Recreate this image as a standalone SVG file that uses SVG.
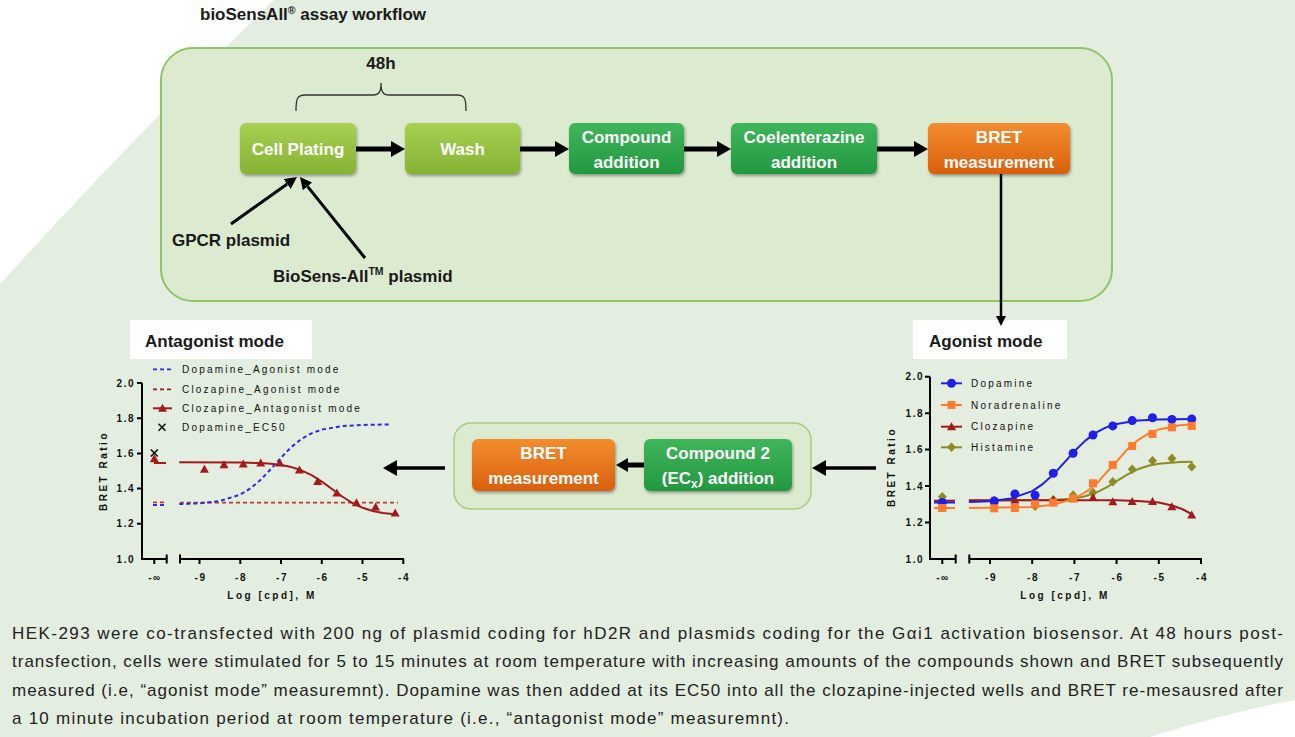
<svg xmlns="http://www.w3.org/2000/svg" width="1295" height="737" viewBox="0 0 1295 737">
<defs>
<style>
text{font-family:"Liberation Sans",Arial,sans-serif}
.bw{font-weight:bold;fill:#fff;font-size:17px;text-anchor:middle}
.lbl{font-weight:bold;font-size:17px;fill:#1a1a1a}
.tick{font-weight:bold;font-size:10px;letter-spacing:1.5px;fill:#111}
.tl{text-anchor:end}
.tc{text-anchor:middle}
.leg{font-size:10px;letter-spacing:2.2px;fill:#111}
.axl{font-weight:bold;font-size:10px;letter-spacing:2.5px;fill:#111;text-anchor:middle}
.body{font-size:17px;fill:#222}
.ax{stroke:#000;stroke-width:2;fill:none}
.cv{fill:none;stroke-width:2;stroke-linejoin:round}
.thick{stroke:#000;stroke-width:5;fill:none}
.thin{stroke:#000;stroke-width:3;fill:none}
.box{filter:url(#sh)}
</style>
<linearGradient id="lg" x1="0" y1="0" x2="0" y2="1"><stop offset="0" stop-color="#a8cf52"/><stop offset="1" stop-color="#86b334"/></linearGradient>
<linearGradient id="dg" x1="0" y1="0" x2="0" y2="1"><stop offset="0" stop-color="#40b55c"/><stop offset="1" stop-color="#22983f"/></linearGradient>
<linearGradient id="og" x1="0" y1="0" x2="0" y2="1"><stop offset="0" stop-color="#f38d2f"/><stop offset="1" stop-color="#d95f0c"/></linearGradient>
<filter id="sh" x="-10%" y="-10%" width="130%" height="140%"><feDropShadow dx="1" dy="2" stdDeviation="1.5" flood-color="#000" flood-opacity="0.35"/></filter>
<marker id="ahL" viewBox="0 0 14 16" refX="0" refY="8" markerWidth="14" markerHeight="16" markerUnits="userSpaceOnUse" orient="auto"><path d="M0,0 L14,8 L0,16z" fill="#000"/></marker>
<marker id="ahM" viewBox="0 0 12 14" refX="0" refY="7" markerWidth="12" markerHeight="14" markerUnits="userSpaceOnUse" orient="auto"><path d="M0,0 L12,7 L0,14z" fill="#000"/></marker>
<marker id="ahS" viewBox="0 0 12 12" refX="0" refY="6" markerWidth="12" markerHeight="12" markerUnits="userSpaceOnUse" orient="auto"><path d="M0,0 L12,6 L0,12z" fill="#000"/></marker>
<marker id="ahT" viewBox="0 0 10 10" refX="0" refY="5" markerWidth="10" markerHeight="10" markerUnits="userSpaceOnUse" orient="auto"><path d="M0,0 L10,5 L0,10z" fill="#000"/></marker>
<path id="tri" d="M0,-4.5 L4.5,3.5 L-4.5,3.5z"/>
<circle id="cir" r="4.5"/>
<rect id="sq" x="-4" y="-4" width="8" height="8"/>
<path id="dia" d="M0,-4.8 L4.5,0 L0,4.8 L-4.5,0z"/>
</defs>

<rect width="1295" height="737" fill="#e3ede0"/>
<path d="M0,0 H274 Q150,120 0,284 Z" fill="#ffffff"/>
<path d="M1150,737 Q1230,712 1295,700 V737 Z" fill="#ffffff"/>

<text x="200" y="20" class="lbl" font-size="17.5">bioSensAll<tspan font-size="10.5" dy="-6">®</tspan><tspan dy="6"> assay workflow</tspan></text>

<g id="workflow-panel">
<rect x="161" y="48" width="951" height="253" rx="32" fill="#dceacf" stroke="#8fc46a" stroke-width="2"/>
</g>

<g id="brace-48h">
<text x="381" y="69" class="lbl tc">48h</text>
<path d="M296,111 C296,99 297,95 305,95 H373 C379,95 381,92 381,83 C381,92 383,95 389,95 H457 C465,95 466,99 466,111" fill="none" stroke="#333" stroke-width="1.3"/>
</g>

<g id="cell-plating">
<rect class="box" x="240" y="123" width="116" height="51" rx="6" fill="url(#lg)"/>
<text x="298" y="155" class="bw">Cell Plating</text>
</g>
<g id="wash">
<rect class="box" x="405" y="123" width="115" height="51" rx="6" fill="url(#lg)"/>
<text x="462.5" y="155" class="bw">Wash</text>
</g>
<g id="compound-addition">
<rect class="box" x="569" y="123" width="115" height="51" rx="6" fill="url(#dg)"/>
<text x="626.5" y="143" class="bw">Compound</text>
<text x="626.5" y="167.5" class="bw">addition</text>
</g>
<g id="coelenterazine-addition">
<rect class="box" x="731" y="123" width="146" height="51" rx="6" fill="url(#dg)"/>
<text x="804" y="143" class="bw" font-size="16.5">Coelenterazine</text>
<text x="804" y="167.5" class="bw">addition</text>
</g>
<g id="bret-measurement-1">
<rect class="box" x="928" y="123" width="142" height="51" rx="6" fill="url(#og)"/>
<text x="999" y="143" class="bw">BRET</text>
<text x="999" y="167.5" class="bw">measurement</text>
</g>

<g id="gpcr-plasmid">
<text x="172" y="246" class="lbl">GPCR plasmid</text>
</g>
<g id="biosens-plasmid">
<text x="273" y="282" class="lbl">BioSens-All<tspan font-size="10.5" dy="-7">TM</tspan><tspan dy="7"> plasmid</tspan></text>
</g>

<g id="antagonist-mode-label">
<rect x="130" y="320" width="182" height="39" fill="#ffffff"/>
<text x="145" y="347" class="lbl" font-size="17.5">Antagonist mode</text>
</g>
<g id="agonist-mode-label">
<rect x="913" y="320" width="154" height="39" fill="#ffffff"/>
<text x="929" y="347" class="lbl" font-size="17.5">Agonist mode</text>
</g>

<g id="antagonist-panel">
<rect x="454" y="423" width="357" height="86" rx="17" fill="#dceacf" stroke="#a3cf82" stroke-width="1.5"/>
</g>
<g id="bret-measurement-2">
<rect class="box" x="472" y="439" width="143" height="52" rx="6" fill="url(#og)"/>
<text x="543.5" y="459" class="bw">BRET</text>
<text x="543.5" y="484" class="bw">measurement</text>
</g>
<g id="compound2-addition">
<rect class="box" x="644" y="439" width="148" height="52" rx="6" fill="url(#dg)"/>
<text x="718" y="459" class="bw">Compound 2</text>
<text x="718" y="484" class="bw">(EC<tspan font-size="12" dy="4">x</tspan><tspan dy="-4">) addition</tspan></text>
</g>

<g id="connectors">
<line x1="356" y1="149" x2="391" y2="149" class="thick" marker-end="url(#ahL)"/>
<line x1="520" y1="149" x2="555" y2="149" class="thick" marker-end="url(#ahL)"/>
<line x1="684" y1="149" x2="717" y2="149" class="thick" marker-end="url(#ahL)"/>
<line x1="877" y1="149" x2="914" y2="149" class="thick" marker-end="url(#ahL)"/>
<line x1="1001" y1="174" x2="1001" y2="316" stroke="#000" stroke-width="2.5" marker-end="url(#ahT)"/>
<line x1="231" y1="224" x2="287.2" y2="184" class="thin" marker-end="url(#ahS)"/>
<line x1="365" y1="258" x2="307.5" y2="186.4" class="thin" marker-end="url(#ahS)"/>
<line x1="644" y1="465" x2="628" y2="465" class="thick" marker-end="url(#ahM)"/>
<line x1="876" y1="468" x2="826" y2="468" stroke="#000" stroke-width="3.5" marker-end="url(#ahL)"/>
<line x1="445" y1="468" x2="397" y2="468" stroke="#000" stroke-width="3.5" marker-end="url(#ahL)"/>
</g>

<g id="chart-antagonist">
<path class="ax" d="M142,383 V559 H166.7 M166.7,554.5 V563.5 M180,554.5 V563.5 M180,559 H404"/>
<path class="ax" stroke-width="1.5" d="M137,383 H142 M137,418.2 H142 M137,453.4 H142 M137,488.6 H142 M137,523.8 H142 M154.3,559 V564 M199.5,559 V564 M240.3,559 V564 M281,559 V564 M321.8,559 V564 M362.5,559 V564 M403.3,559 V564"/>
<text class="tick tl" x="135" y="386.5">2.0</text>
<text class="tick tl" x="135" y="421.7">1.8</text>
<text class="tick tl" x="135" y="456.9">1.6</text>
<text class="tick tl" x="135" y="492.1">1.4</text>
<text class="tick tl" x="135" y="527.3">1.2</text>
<text class="tick tl" x="135" y="562.5">1.0</text>
<text class="tick tc" x="155" y="581">-∞</text>
<text class="tick tc" x="200.5" y="581">-9</text>
<text class="tick tc" x="241" y="581">-8</text>
<text class="tick tc" x="282" y="581">-7</text>
<text class="tick tc" x="322.5" y="581">-6</text>
<text class="tick tc" x="363" y="581">-5</text>
<text class="tick tc" x="404" y="581">-4</text>
<text class="axl" x="272" y="599">Log [cpd], M</text>
<text class="axl" transform="translate(107,471) rotate(-90)">BRET Ratio</text>
<line x1="153" y1="369.3" x2="172" y2="369.3" stroke="#2a2ae8" stroke-width="1.8" stroke-dasharray="4 3"/>
<line x1="153" y1="389.3" x2="172" y2="389.3" stroke="#a31a1a" stroke-width="1.8" stroke-dasharray="4 3"/>
<line x1="153" y1="408.3" x2="172" y2="408.3" stroke="#a31a1a" stroke-width="2"/>
<use href="#tri" x="162.5" y="408.3" fill="#a31a1a"/>
<path d="M158.5,423.8 L165.5,430.8 M165.5,423.8 L158.5,430.8" stroke="#111" stroke-width="1.6"/>
<text class="leg" x="182" y="372.8">Dopamine_Agonist mode</text>
<text class="leg" x="182" y="392.8">Clozapine_Agonist mode</text>
<text class="leg" x="182" y="411.8">Clozapine_Antagonist mode</text>
<text class="leg" x="182" y="430.8">Dopamine_EC50</text>
<line x1="153" y1="502.3" x2="166" y2="502.3" stroke="#c0392b" stroke-width="1.8" stroke-dasharray="4 3"/>
<line x1="153" y1="505" x2="166" y2="505" stroke="#2a2ae8" stroke-width="1.8" stroke-dasharray="4 3"/>
<line x1="180" y1="502.7" x2="398" y2="502.7" stroke="#c0392b" stroke-width="1.8" stroke-dasharray="4 3"/>
<polyline class="cv" stroke="#2a2ae8" stroke-width="1.8" stroke-dasharray="4 3" points="179.2,504.1 199.5,503.3 219.9,501 240.3,494.6 250.4,488.4 260.7,479.8 270.9,469 281.1,457.6 291.3,447.1 301.4,439 311.6,433.3 321.8,429.6 342.2,426.1 362.6,424.9 391.1,424.4"/>
<line x1="154" y1="463" x2="166" y2="463" stroke="#a31a1a" stroke-width="2"/>
<polyline class="cv" stroke="#a31a1a" points="179.2,462.2 240.3,462.5 260.7,463.1 270.9,463.8 281.1,465 291.3,467.1 301.4,470.3 311.6,475.1 321.8,481.6 332,489 342.2,496.5 352.4,503 362.6,507.8 372.7,511 382.9,513 397.2,514.6"/>
<g fill="#a31a1a">
<use href="#tri" x="154.3" y="458.7"/>
<use href="#tri" x="204.4" y="469.2"/>
<use href="#tri" x="224" y="464.8"/>
<use href="#tri" x="243.2" y="464"/>
<use href="#tri" x="260.7" y="463.1"/>
<use href="#tri" x="279.8" y="463.1"/>
<use href="#tri" x="299.4" y="470.1"/>
<use href="#tri" x="317.7" y="481.6"/>
<use href="#tri" x="336.9" y="493"/>
<use href="#tri" x="356.4" y="502.7"/>
<use href="#tri" x="375.6" y="507.1"/>
<use href="#tri" x="395.2" y="512.9"/>
</g>
<path d="M150.8,449.5 L157.8,456.5 M157.8,449.5 L150.8,456.5" stroke="#111" stroke-width="1.6"/>
</g>

<g id="chart-agonist">
<path class="ax" d="M930,376.7 V559 H955.7 M955.7,554.5 V563.5 M969.3,554.5 V563.5 M969.3,559 H1202"/>
<path class="ax" stroke-width="1.5" d="M925,376.7 H930 M925,413.2 H930 M925,449.6 H930 M925,486.1 H930 M925,522.5 H930 M942.3,559 V564 M990,559 V564 M1032.2,559 V564 M1074.4,559 V564 M1116.6,559 V564 M1158.8,559 V564 M1201,559 V564"/>
<text class="tick tl" x="924" y="380.2">2.0</text>
<text class="tick tl" x="924" y="416.7">1.8</text>
<text class="tick tl" x="924" y="453.1">1.6</text>
<text class="tick tl" x="924" y="489.6">1.4</text>
<text class="tick tl" x="924" y="526">1.2</text>
<text class="tick tl" x="924" y="562.5">1.0</text>
<text class="tick tc" x="943" y="581">-∞</text>
<text class="tick tc" x="991" y="581">-9</text>
<text class="tick tc" x="1033" y="581">-8</text>
<text class="tick tc" x="1075" y="581">-7</text>
<text class="tick tc" x="1117.5" y="581">-6</text>
<text class="tick tc" x="1159.5" y="581">-5</text>
<text class="tick tc" x="1202" y="581">-4</text>
<text class="axl" x="1065" y="599">Log [cpd], M</text>
<text class="axl" transform="translate(895,467) rotate(-90)">BRET Ratio</text>
<line x1="941" y1="383.3" x2="962" y2="383.3" stroke="#1f1fe8" stroke-width="2"/>
<use href="#cir" x="951.5" y="383.3" fill="#1f1fe8"/>
<line x1="941" y1="405" x2="962" y2="405" stroke="#ff7b2e" stroke-width="2"/>
<use href="#sq" x="951.5" y="405" fill="#ff7b2e"/>
<line x1="941" y1="426.7" x2="962" y2="426.7" stroke="#a31a1a" stroke-width="2"/>
<use href="#tri" x="951.5" y="426.7" fill="#a31a1a"/>
<line x1="941" y1="447.3" x2="962" y2="447.3" stroke="#8c8c22" stroke-width="2"/>
<use href="#dia" x="951.5" y="447.3" fill="#8c8c22"/>
<text class="leg" x="971" y="386.8">Dopamine</text>
<text class="leg" x="971" y="408.5">Noradrenaline</text>
<text class="leg" x="971" y="430.2">Clozapine</text>
<text class="leg" x="971" y="450.8">Histamine</text>
<line x1="934" y1="500.7" x2="955" y2="500.7" stroke="#a31a1a" stroke-width="2"/>
<line x1="934" y1="502.5" x2="955" y2="502.5" stroke="#1f1fe8" stroke-width="2"/>
<line x1="934" y1="508" x2="955" y2="508" stroke="#ff7b2e" stroke-width="2"/>
<polyline class="cv" stroke="#8c8c22" points="968.9,500.7 1053.3,500.1 1074.4,498.4 1085,496.3 1095.5,492.8 1106.1,487.6 1116.6,481.1 1127.2,474.6 1137.7,469.3 1148.3,465.8 1158.8,463.8 1179.9,462.1 1192.6,461.8"/>
<g fill="#8c8c22">
<use href="#dia" x="942.3" y="496.7"/>
<use href="#dia" x="994.2" y="500.7"/>
<use href="#dia" x="1035.1" y="506.1"/>
<use href="#dia" x="1053.3" y="499.8"/>
<use href="#dia" x="1073.1" y="495"/>
<use href="#dia" x="1093" y="492.6"/>
<use href="#dia" x="1112.8" y="481.7"/>
<use href="#dia" x="1132.2" y="469.3"/>
<use href="#dia" x="1152.5" y="460.7"/>
<use href="#dia" x="1171.9" y="458.4"/>
<use href="#dia" x="1191.7" y="466.8"/>
</g>
<polyline class="cv" stroke="#a31a1a" points="968.9,500.3 1116.6,500.3 1137.7,500.9 1158.8,502.5 1171.9,505.5 1182,509 1192.6,514.5"/>
<g fill="#a31a1a">
<use href="#tri" x="994.2" y="500.7"/>
<use href="#tri" x="1014.9" y="499.9"/>
<use href="#tri" x="1035.1" y="500.7"/>
<use href="#tri" x="1053.3" y="499.8"/>
<use href="#tri" x="1073.1" y="498.8"/>
<use href="#tri" x="1093" y="497.4"/>
<use href="#tri" x="1112.8" y="501.8"/>
<use href="#tri" x="1132.2" y="501.6"/>
<use href="#tri" x="1152.5" y="501.6"/>
<use href="#tri" x="1171.9" y="506.7"/>
<use href="#tri" x="1191.7" y="515.1"/>
</g>
<polyline class="cv" stroke="#1f1fe8" points="968.9,502.1 990,501.2 1011.1,498.5 1032.2,491.1 1042.7,484.1 1053.3,474.6 1063.8,463.1 1074.4,451.3 1085,440.9 1095.5,432.9 1106.1,427.4 1116.6,423.9 1137.7,420.6 1158.8,419.5 1192.6,418.9"/>
<g fill="#1f1fe8">
<use href="#cir" x="942.3" y="502.5"/>
<use href="#cir" x="994.2" y="501"/>
<use href="#cir" x="1014.9" y="493.9"/>
<use href="#cir" x="1035.1" y="495.2"/>
<use href="#cir" x="1053.3" y="473.3"/>
<use href="#cir" x="1073.1" y="453.3"/>
<use href="#cir" x="1093" y="435"/>
<use href="#cir" x="1112.8" y="425.9"/>
<use href="#cir" x="1132.2" y="420.6"/>
<use href="#cir" x="1152.5" y="417.7"/>
<use href="#cir" x="1171.9" y="419.4"/>
<use href="#cir" x="1191.7" y="419"/>
</g>
<polyline class="cv" stroke="#ff7b2e" points="968.9,508 1032.2,507 1053.3,504.8 1074.4,498.5 1085,492.5 1095.5,484.8 1106.1,472.8 1116.6,461.7 1127.2,449.4 1137.7,440.3 1148.3,433.7 1158.8,429.4 1179.9,425.3 1192.6,424.3"/>
<g fill="#ff7b2e">
<use href="#sq" x="942.3" y="508"/>
<use href="#sq" x="994.2" y="508.3"/>
<use href="#sq" x="1014.9" y="508"/>
<use href="#sq" x="1035.1" y="504.3"/>
<use href="#sq" x="1053.3" y="502.7"/>
<use href="#sq" x="1073.1" y="498.3"/>
<use href="#sq" x="1093" y="483.3"/>
<use href="#sq" x="1112.8" y="464.9"/>
<use href="#sq" x="1132.2" y="446"/>
<use href="#sq" x="1152.5" y="433.9"/>
<use href="#sq" x="1171.9" y="427.4"/>
<use href="#sq" x="1191.7" y="425.9"/>
</g>
</g>

<g id="caption">
<text class="body" x="12" y="639" textLength="1271" lengthAdjust="spacing">HEK-293 were co-transfected with 200 ng of plasmid coding for hD2R and plasmids coding for the Gαi1 activation biosensor. At 48 hours post-</text>
<text class="body" x="12" y="667" textLength="1271" lengthAdjust="spacing">transfection, cells were stimulated for 5 to 15 minutes at room temperature with increasing amounts of the compounds shown and BRET subsequently</text>
<text class="body" x="12" y="696" textLength="1271" lengthAdjust="spacing">measured (i.e, “agonist mode” measuremnt). Dopamine was then added at its EC50 into all the clozapine-injected wells and BRET re-mesausred after</text>
<text class="body" x="12" y="724" textLength="777" lengthAdjust="spacing">a 10 minute incubation period at room temperature (i.e., “antagonist mode” measuremnt).</text>
</g>
</svg>
